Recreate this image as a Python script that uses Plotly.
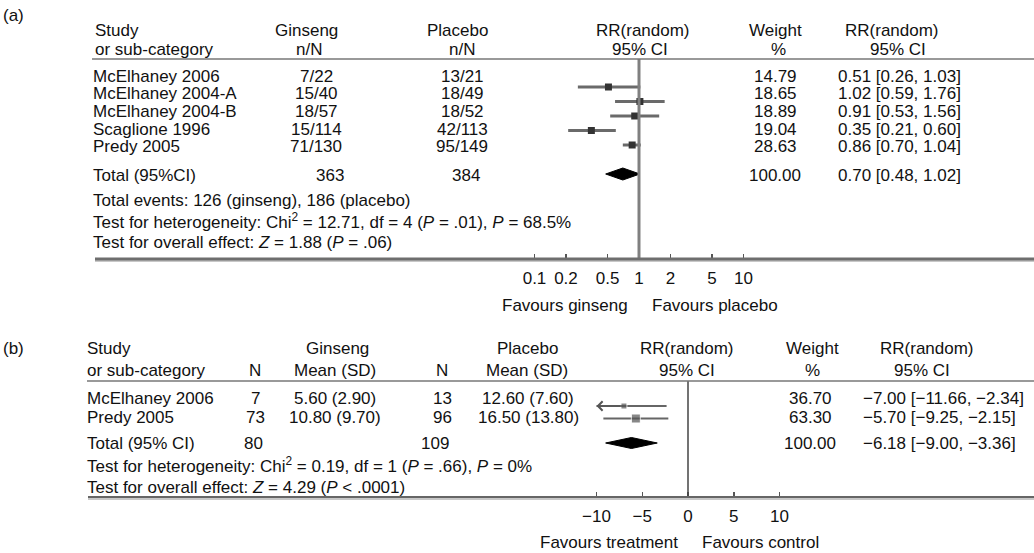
import plotly.graph_objects as go

W, H = 1034, 553
FONT = "Liberation Sans, Arial, Helvetica, sans-serif"
FS = 17
INK = "#111111"

# ---------------- panel (a) data ----------------
a_studies = ["McElhaney 2006", "McElhaney 2004-A", "McElhaney 2004-B", "Scaglione 1996", "Predy 2005"]
a_ginseng = ["7/22", "15/40", "18/57", "15/114", "71/130"]
a_placebo = ["13/21", "18/49", "18/52", "42/113", "95/149"]
a_weight = [14.79, 18.65, 18.89, 19.04, 28.63]
a_rr = [0.51, 1.02, 0.91, 0.35, 0.86]
a_lo = [0.26, 0.59, 0.53, 0.21, 0.70]
a_hi = [1.03, 1.76, 1.56, 0.60, 1.04]
a_total_n = [363, 384]
a_total_events = [126, 186]
a_total_rr, a_total_lo, a_total_hi = 0.70, 0.48, 1.02
a_ticks = [0.1, 0.2, 0.5, 1, 2, 5, 10]
a_tick_labels = ["0.1", "0.2", "0.5", "1", "2", "5", "10"]
a_chi2, a_df, a_phet, a_i2 = 12.71, 4, ".01", 68.5
a_z, a_p = 1.88, ".06"

# ---------------- panel (b) data ----------------
b_studies = ["McElhaney 2006", "Predy 2005"]
b_n_g = [7, 73]
b_mean_g = [5.60, 10.80]
b_sd_g = [2.90, 9.70]
b_n_p = [13, 96]
b_mean_p = [12.60, 16.50]
b_sd_p = [7.60, 13.80]
b_weight = [36.70, 63.30]
b_md = [-7.00, -5.70]
b_lo = [-11.66, -9.25]
b_hi = [-2.34, -2.15]
b_total_n = [80, 109]
b_total_md, b_total_lo, b_total_hi = -6.18, -9.00, -3.36
b_ticks = [-10, -5, 0, 5, 10]
b_chi2, b_df, b_phet, b_i2 = 0.19, 1, ".66", 0
b_z, b_p = 4.29, ".0001"

MINUS = "\u2212"


def fnum(v):
    return f"{v:.2f}".replace("-", MINUS)


fig = go.Figure()

# ---------------- layout geometry (pixels) ----------------
A_X1, A_DEC = 639.0, 104.5        # pixel of RR = 1, pixels per decade
B_X0, B_UNIT = 688.0, 9.15        # pixel of MD = 0, pixels per unit
A_TOP, A_BOT = 59, 259
B_TOP, B_BOT = 381, 497
A_MARK0, A_MARKSTEP, A_DIAM = 87.0, 14.5, 174.0
B_MARK0, B_MARKSTEP, B_DIAM = 406.0, 12.5, 443.0


def yp(p):
    return 1 - p / H


def txt(x, y, s, anchor="left"):
    fig.add_annotation(x=x / W, y=yp(y), xref="paper", yref="paper", text=s,
                       showarrow=False, xanchor=anchor, yanchor="middle",
                       borderpad=0, borderwidth=0,
                       font=dict(size=FS, family=FONT, color=INK))


def hline(y, x0, width, color):
    fig.add_shape(type="line", xref="paper", yref="paper", x0=x0 / W, x1=1,
                  y0=yp(y), y1=yp(y), line=dict(color=color, width=width))


# ---------------- panel (a) marks ----------------
a_y = [A_MARK0 + A_MARKSTEP * i for i in range(len(a_rr))]
for lo, hi, y in zip(a_lo, a_hi, a_y):
    fig.add_trace(go.Scatter(x=[lo, hi], y=[y, y], mode="lines", xaxis="x", yaxis="y",
                             line=dict(color="#6a6a6a", width=3), hoverinfo="skip"))
fig.add_trace(go.Scatter(x=a_rr, y=a_y, mode="markers", xaxis="x", yaxis="y",
                         marker=dict(symbol="square", size=7, color="#333333")))
dh = 6
fig.add_trace(go.Scatter(x=[a_total_lo, a_total_rr, a_total_hi, a_total_rr, a_total_lo],
                         y=[A_DIAM, A_DIAM - dh, A_DIAM, A_DIAM + dh, A_DIAM],
                         mode="lines", fill="toself", fillcolor="#000000",
                         line=dict(color="#000000", width=1), xaxis="x", yaxis="y"))
fig.add_shape(type="line", xref="x", yref="y domain", x0=1, x1=1, y0=0, y1=1,
              line=dict(color="#808080", width=3))

# ---------------- panel (b) marks ----------------
b_y = [B_MARK0 + B_MARKSTEP * i for i in range(len(b_md))]
b_sizes = [6, 9]
for lo, hi, y, m in zip(b_lo, b_hi, b_y, b_md):
    x0 = max(lo, b_ticks[0])
    x1 = min(hi, b_ticks[-1])
    fig.add_trace(go.Scatter(x=[x0, x1], y=[y, y], mode="lines", xaxis="x2", yaxis="y2",
                             line=dict(color="#666666", width=2), hoverinfo="skip"))
    if lo < b_ticks[0]:
        fig.add_annotation(x=b_ticks[0], y=y, ax=m, ay=y, xref="x2", yref="y2",
                           axref="x2", ayref="y2", showarrow=True, arrowhead=4,
                           arrowsize=1.2, arrowwidth=1.5, arrowcolor="#555555", text="")
fig.add_trace(go.Scatter(x=b_md, y=b_y, mode="markers", xaxis="x2", yaxis="y2",
                         marker=dict(symbol="square", size=b_sizes, color="#555555")))
dh = 5.5
fig.add_trace(go.Scatter(x=[b_total_lo, b_total_md, b_total_hi, b_total_md, b_total_lo],
                         y=[B_DIAM, B_DIAM - dh, B_DIAM, B_DIAM + dh, B_DIAM],
                         mode="lines", fill="toself", fillcolor="#000000",
                         line=dict(color="#000000", width=1), xaxis="x2", yaxis="y2"))
fig.add_shape(type="line", xref="x2", yref="y2 domain", x0=0, x1=0, y0=0, y1=1,
              line=dict(color="#444444", width=1.5))

# ---------------- rules ----------------
hline(A_TOP, 92, 1.5, "#777777")
hline(A_BOT + 2, 95, 2, "#c8c8c8")
hline(A_BOT, 95, 3, "#6e6e6e")
hline(B_TOP, 87, 1.5, "#777777")
hline(B_BOT + 2, 88, 2, "#c8c8c8")
hline(B_BOT, 88, 2, "#666666")

# ---------------- panel (a) text ----------------
HA1, HA2 = 31, 50
txt(3, 16, "(a)")
txt(95, HA1, "Study")
txt(95, HA2, "or sub-category")
txt(306, HA1, "Ginseng", "center")
txt(309, HA2, "n/N", "center")
txt(457, HA1, "Placebo", "center")
txt(462, HA2, "n/N", "center")
txt(643, HA1, "RR(random)", "center")
txt(640, HA2, "95% CI", "center")
txt(775, HA1, "Weight", "center")
txt(778, HA2, "%", "center")
txt(892, HA1, "RR(random)", "center")
txt(898, HA2, "95% CI", "center")

A_ROW0, A_ROWSTEP = 76.0, 17.75
for i, s in enumerate(a_studies):
    y = A_ROW0 + A_ROWSTEP * i
    txt(93, y, s)
    txt(316, y, a_ginseng[i], "center")
    txt(462, y, a_placebo[i], "center")
    txt(775, y, f"{a_weight[i]:.2f}", "center")
    txt(838, y, f"{fnum(a_rr[i])} [{fnum(a_lo[i])}, {fnum(a_hi[i])}]")
txt(93, 175, "Total (95%CI)")
txt(330, 175, str(a_total_n[0]), "center")
txt(466, 175, str(a_total_n[1]), "center")
txt(775, 175, "100.00", "center")
txt(838, 175, f"{fnum(a_total_rr)} [{fnum(a_total_lo)}, {fnum(a_total_hi)}]")
txt(93, 200, f"Total events: {a_total_events[0]} (ginseng), {a_total_events[1]} (placebo)")
txt(93, 221, f"Test for heterogeneity: Chi<sup>2</sup> = {a_chi2:.2f}, df = {a_df} "
             f"(<i>P</i> = {a_phet}), <i>P</i> = {a_i2:.1f}%")
txt(93, 242, f"Test for overall effect: <i>Z</i> = {a_z:.2f} (<i>P</i> = {a_p})")
txt(628, 305, "Favours ginseng", "right")
txt(652, 305, "Favours placebo")

# ---------------- panel (b) text ----------------
HB1, HB2 = 348, 370
txt(3, HB1, "(b)")
txt(87, HB1, "Study")
txt(87, HB2, "or sub-category")
txt(255, HB2, "N", "center")
txt(337, HB1, "Ginseng", "center")
txt(335, HB2, "Mean (SD)", "center")
txt(442, HB2, "N", "center")
txt(527, HB1, "Placebo", "center")
txt(527, HB2, "Mean (SD)", "center")
txt(687, HB1, "RR(random)", "center")
txt(687, HB2, "95% CI", "center")
txt(812, HB1, "Weight", "center")
txt(812, HB2, "%", "center")
txt(927, HB1, "RR(random)", "center")
txt(922, HB2, "95% CI", "center")

B_ROW0, B_ROWSTEP = 398.0, 19.0
for i, s in enumerate(b_studies):
    y = B_ROW0 + B_ROWSTEP * i
    txt(87, y, s)
    txt(255, y, str(b_n_g[i]), "center")
    txt(335, y, f"{b_mean_g[i]:.2f} ({b_sd_g[i]:.2f})", "center")
    txt(442, y, str(b_n_p[i]), "center")
    txt(528, y, f"{b_mean_p[i]:.2f} ({b_sd_p[i]:.2f})", "center")
    txt(810, y, f"{b_weight[i]:.2f}", "center")
    txt(863, y, f"{fnum(b_md[i])} [{fnum(b_lo[i])}, {fnum(b_hi[i])}]")
txt(87, 443, "Total (95% CI)")
txt(253, 443, str(b_total_n[0]), "center")
txt(435, 443, str(b_total_n[1]), "center")
txt(810, 443, "100.00", "center")
txt(863, 443, f"{fnum(b_total_md)} [{fnum(b_total_lo)}, {fnum(b_total_hi)}]")
txt(87, 465, f"Test for heterogeneity: Chi<sup>2</sup> = {b_chi2:.2f}, df = {b_df} "
             f"(<i>P</i> = {b_phet}), <i>P</i> = {b_i2}%")
txt(87, 487, f"Test for overall effect: <i>Z</i> = {b_z:.2f} (<i>P</i> &lt; {b_p})")
txt(678, 542, "Favours treatment", "right")
txt(702, 542, "Favours control")

# ---------------- axes ----------------
axis_common = dict(showgrid=False, zeroline=False, showline=False, ticks="inside",
                   ticklen=5, tickwidth=1.5, tickcolor="#555555", fixedrange=True,
                   tickfont=dict(family=FONT, size=FS, color=INK), ticklabelstandoff=7)
fig.update_layout(
    width=W, height=H, margin=dict(l=0, r=0, t=0, b=0, pad=0),
    paper_bgcolor="white", plot_bgcolor="rgba(0,0,0,0)", showlegend=False,
    font=dict(family=FONT, size=FS, color=INK),
    xaxis=dict(type="log", domain=[0, 1], anchor="y",
               range=[(0 - A_X1) / A_DEC, (W - A_X1) / A_DEC],
               tickvals=a_ticks, ticktext=a_tick_labels, **axis_common),
    yaxis=dict(domain=[yp(A_BOT), yp(A_TOP)], range=[A_BOT, A_TOP], visible=False,
               fixedrange=True, anchor="x"),
    xaxis2=dict(domain=[0, 1], anchor="y2",
                range=[(0 - B_X0) / B_UNIT, (W - B_X0) / B_UNIT],
                tickvals=b_ticks, ticktext=[str(t).replace("-", MINUS) for t in b_ticks],
                **axis_common),
    yaxis2=dict(domain=[yp(B_BOT), yp(B_TOP)], range=[B_BOT, B_TOP], visible=False,
                fixedrange=True, anchor="x2"),
)

fig.write_html("out.html",
               config=dict(displayModeBar=False, staticPlot=True),
               post_script="document.body.style.margin='0';"
                           "document.documentElement.style.margin='0';"
                           "document.body.style.overflow='hidden';")
